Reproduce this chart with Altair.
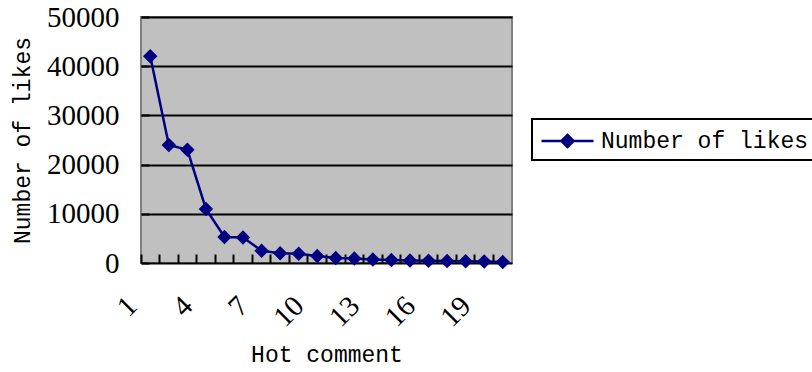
import altair as alt
import pandas as pd

ranks = list(range(1, 21))
likes = [42000, 24000, 23000, 11000, 5300, 5200, 2500, 2000, 1900, 1400,
         1000, 900, 700, 600, 500, 450, 400, 350, 300, 200]
series_name = "Number of likes"
y_ticks = [0, 10000, 20000, 30000, 40000, 50000]

df = pd.DataFrame({"rank": ranks, "likes": likes, "series": [series_name] * len(ranks)})

NAVY = "#000080"
MONO = "Liberation Mono"
SERIF = "Liberation Serif"

x_enc = alt.X(
    "rank:O",
    scale=alt.Scale(type="band", paddingInner=0, paddingOuter=0),
    axis=alt.Axis(
        title="Hot comment",
        titleFont=MONO, titleFontSize=23, titleFontWeight="normal", titleColor="black",
        titlePadding=11,
        bandPosition=0,
        labelAngle=-45, labelAlign="right", labelBaseline="middle",
        labelExpr="(datum.value - 1) % 3 == 0 ? datum.label : ''",
        labelFont=SERIF, labelFontSize=29, labelColor="black",
        labelPadding=38, labelOffset=-18,
        labelOverlap=False, labelBound=False, labelFlush=False,
        domain=False, grid=False,
        ticks=True, tickSize=9, tickColor="black", tickWidth=2, offset=-9,
    ),
)

y_enc = alt.Y(
    "likes:Q",
    scale=alt.Scale(domain=[0, 50000], nice=False),
    axis=alt.Axis(
        title="Number of likes",
        titleFont=MONO, titleFontSize=23, titleFontWeight="normal", titleColor="black",
        titlePadding=12,
        values=y_ticks, format="d",
        labelFont=SERIF, labelFontSize=29, labelColor="black", labelPadding=22,
        domain=False,
        grid=True, gridColor="black", gridWidth=2, gridOpacity=1,
        ticks=True, tickSize=8, tickColor="black", tickWidth=2, offset=-8,
    ),
)

color_enc = alt.Color(
    "series:N",
    scale=alt.Scale(domain=[series_name], range=[NAVY]),
    legend=alt.Legend(
        title=None,
        orient="none", legendX=391, legendY=102,
        labelFont=MONO, labelFontSize=23, labelColor="black", labelLimit=0,
        symbolType="M-1.93,0L1.93,0M0,-0.45L0.45,0L0,0.45L-0.45,0Z",
        symbolSize=729, symbolStrokeWidth=2.5, symbolFillColor=NAVY, symbolStrokeColor=NAVY,
        symbolOffset=13.5, labelOffset=18.5,
        strokeColor="black", padding=7,
    ),
)

base = alt.Chart(df)
line = base.mark_line(color=NAVY, strokeWidth=2.5).encode(x=x_enc, y=y_enc, color=color_enc)
pts = base.mark_point(shape="diamond", filled=True, size=210, color=NAVY, opacity=1).encode(
    x=x_enc, y=y_enc, color=color_enc
)

chart = (
    alt.layer(line, pts)
    .properties(
        width=371, height=246,
        autosize=alt.AutoSizeParams(type="none"),
        padding={"left": 141, "top": 17, "right": 300, "bottom": 109},
        background="white",
    )
    .configure_view(fill="#C0C0C0", stroke="#808080", strokeWidth=2)
    .configure_legend(strokeWidth=2)
)

chart.save("out.html", embed_options={"renderer": "svg", "actions": False})
